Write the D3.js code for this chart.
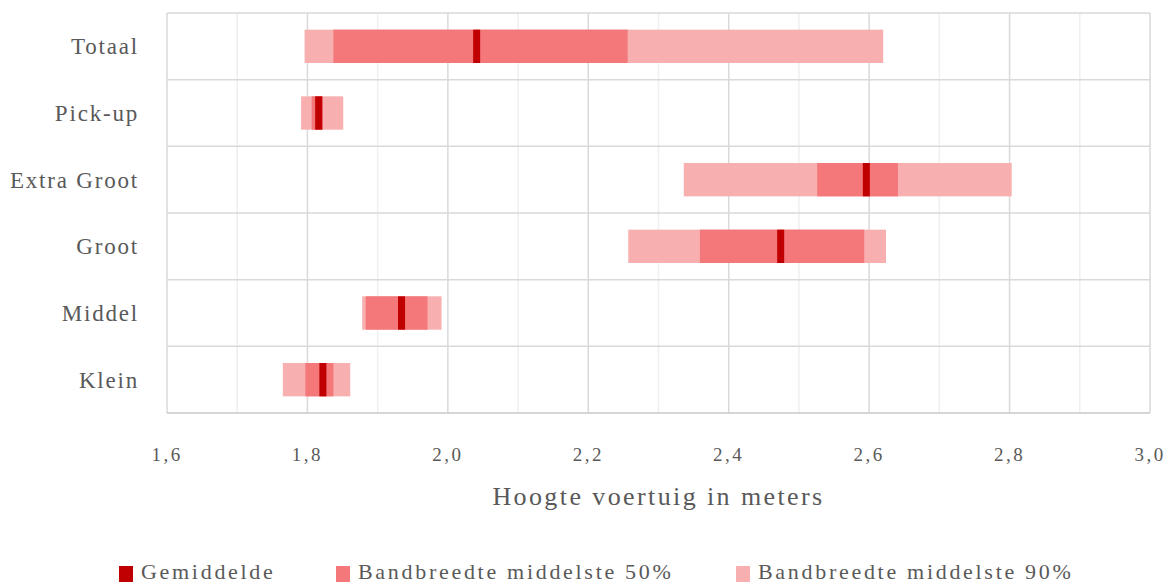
<!DOCTYPE html>
<html><head><meta charset="utf-8">
<script src="https://cdn.jsdelivr.net/npm/d3@7"></script>
<style>
html,body{margin:0;padding:0;background:#fff;}
text{font-family:"Liberation Serif","DejaVu Serif",serif;fill:#595959;}
</style></head>
<body><svg id="c" width="1168" height="585"></svg>
<script>
const categories = ["Totaal","Pick-up","Extra Groot","Groot","Middel","Klein"];
const p5   = [1.796,1.791,2.336,2.257,1.878,1.765];
const p25  = [1.837,1.806,2.526,2.359,1.883,1.797];
const mean = [2.041,1.816,2.596,2.474,1.934,1.822];
const p75  = [2.256,1.822,2.641,2.593,1.971,1.837];
const p95  = [2.620,1.851,2.803,2.624,1.991,1.861];
const xTicks = [1.6,1.8,2.0,2.2,2.4,2.6,2.8,3.0];
const legendLabels = ["Gemiddelde","Bandbreedte middelste 50%","Bandbreedte middelste 90%"];
const xTitle = "Hoogte voertuig in meters";

const colMean = "#c00000", col50 = "#f47779", col90 = "#f7afaf";
const svg = d3.select("#c");
const L = 167, R = 1150, T = 13, B = 413;
const x = d3.scaleLinear().domain([1.6,3.0]).range([L,R]);
const y = d3.scaleBand().domain(categories).range([T,B]).padding(0);

// minor grid
const minor = d3.range(1.7,3.0,0.2);
svg.append("g").selectAll("line").data(minor).join("line")
  .attr("x1",d=>x(d)).attr("x2",d=>x(d)).attr("y1",T).attr("y2",B)
  .attr("stroke","#efefef").attr("stroke-width",1.5);
// major grid
svg.append("g").selectAll("line").data(xTicks).join("line")
  .attr("x1",d=>x(d)).attr("x2",d=>x(d)).attr("y1",T).attr("y2",B)
  .attr("stroke","#d9d9d9").attr("stroke-width",1.5);
// horizontal row lines
svg.append("g").selectAll("line").data(categories).join("line")
  .attr("x1",L).attr("x2",R).attr("y1",d=>y(d)).attr("y2",d=>y(d))
  .attr("stroke","#d9d9d9").attr("stroke-width",1.5);
svg.append("line").attr("x1",L).attr("x2",R).attr("y1",B).attr("y2",B)
  .attr("stroke","#c8c8c8").attr("stroke-width",1.5);

const bh = y.bandwidth()*0.5;
const idx = d3.range(categories.length);
const by = i => y(categories[i]) + (y.bandwidth()-bh)/2;
svg.append("g").selectAll("rect").data(idx).join("rect")
  .attr("x",i=>x(p5[i])).attr("width",i=>x(p95[i])-x(p5[i]))
  .attr("y",by).attr("height",bh).attr("fill",col90);
svg.append("g").selectAll("rect").data(idx).join("rect")
  .attr("x",i=>x(p25[i])).attr("width",i=>x(p75[i])-x(p25[i]))
  .attr("y",by).attr("height",bh).attr("fill",col50);
svg.append("g").selectAll("rect").data(idx).join("rect")
  .attr("x",i=>x(mean[i]-0.005)).attr("width",i=>x(mean[i]+0.005)-x(mean[i]-0.005))
  .attr("y",by).attr("height",bh).attr("fill",colMean);

// y labels
svg.append("g").selectAll("text").data(categories).join("text")
  .attr("x",139).attr("y",d=>y(d)+y.bandwidth()/2).attr("dy","0.35em")
  .attr("text-anchor","end").attr("font-size",23).attr("letter-spacing",1.8)
  .text(d=>d);

// x tick labels
svg.append("g").selectAll("text").data(xTicks).join("text")
  .attr("x",d=>x(d)).attr("y",461)
  .attr("text-anchor","middle").attr("font-size",19).attr("letter-spacing",2.5)
  .text(d=>d3.format(".1f")(d).replace(".",","));

svg.append("text").attr("x",(L+R)/2).attr("y",505).attr("text-anchor","middle")
  .attr("font-size",26).attr("letter-spacing",2.4).text(xTitle);

// legend
const legX = [119,336,736], legC = [colMean,col50,col90];
const lg = svg.append("g").selectAll("g").data(legendLabels).join("g")
  .attr("transform",(d,i)=>`translate(${legX[i]},0)`);
lg.append("rect").attr("x",0).attr("y",566).attr("width",14).attr("height",16).attr("fill",(d,i)=>legC[i]);
lg.append("text").attr("x",22).attr("y",579).attr("font-size",22).attr("letter-spacing",2.7).text(d=>d);
</script></body></html>
